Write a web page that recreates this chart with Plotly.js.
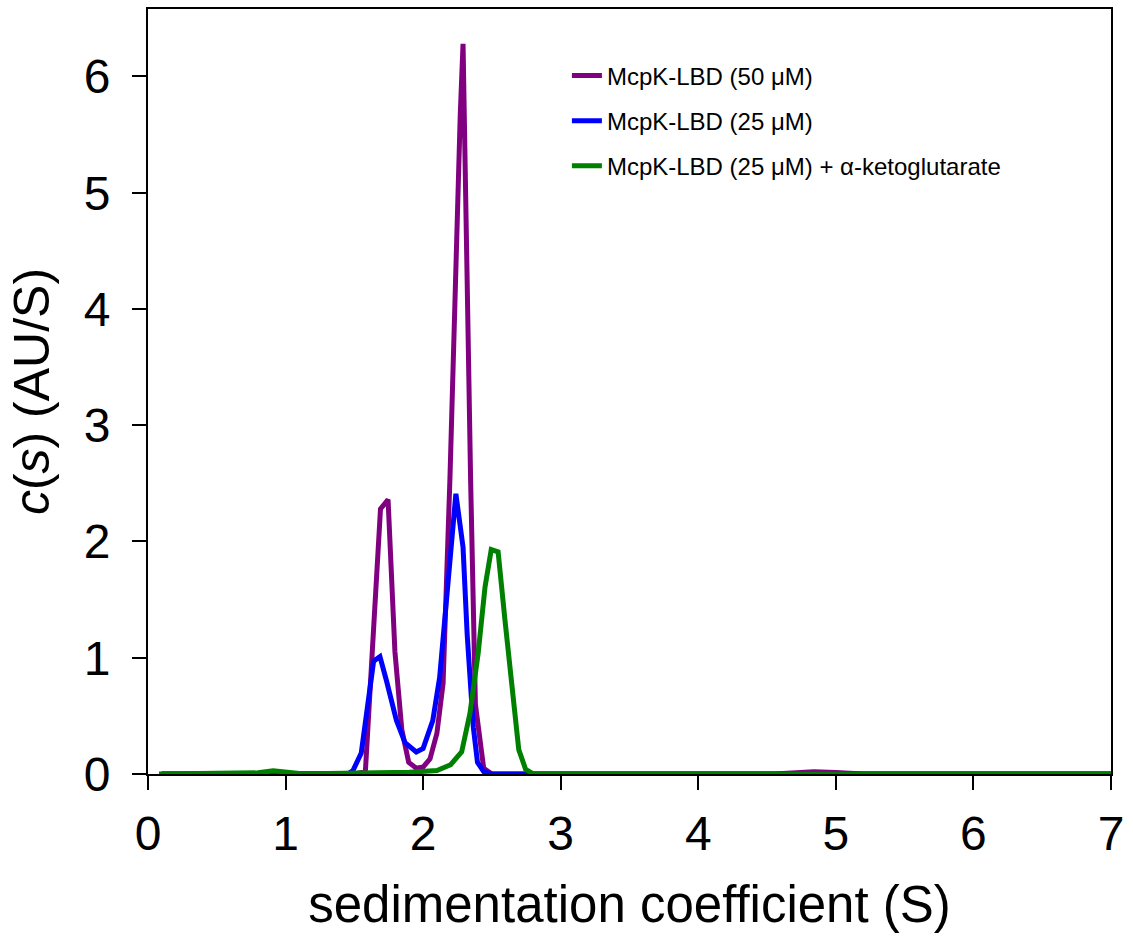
<!DOCTYPE html>
<html>
<head>
<meta charset="utf-8">
<script src="https://cdn.plot.ly/plotly-3.0.1.min.js"></script>
<style>
  html, body { margin: 0; padding: 0; background: #fff; }
  #cs { width: 1133px; height: 943px; }
</style>
</head>
<body>
<div id="cs"></div>
<script>
// c(s) distributions
let names = ["McpK-LBD (50 μM)", "McpK-LBD (25 μM)", "McpK-LBD (25 μM) + α-ketoglutarate"];
let colors = ["#800080", "#0000ff", "#008000"];

let s_50 = [0.1, 1.5, 1.58, 1.69, 1.745, 1.795, 1.845, 1.895, 1.95, 2.0, 2.05, 2.1, 2.145, 2.195, 2.27, 2.29, 2.345, 2.38, 2.44, 2.5, 4.55, 4.7, 4.84, 5.0, 5.2, 7.0];
let c_50 = [0, 0, 0.02, 2.28, 2.36, 1.05, 0.38, 0.1, 0.05, 0.06, 0.13, 0.35, 0.78, 2.55, 5.68, 6.28, 2.53, 0.6, 0.05, 0, 0, 0.012, 0.02, 0.012, 0, 0];

let s_25 = [0.1, 1.45, 1.49, 1.55, 1.64, 1.686, 1.734, 1.806, 1.868, 1.95, 2.0, 2.07, 2.12, 2.18, 2.238, 2.29, 2.32, 2.365, 2.395, 2.44, 2.5, 7.0];
let c_25 = [0, 0, 0.03, 0.18, 0.97, 1.01, 0.8, 0.46, 0.27, 0.19, 0.22, 0.46, 0.83, 1.65, 2.41, 1.95, 1.2, 0.4, 0.1, 0.02, 0, 0];

let s_akg = [0.08, 0.7, 0.8, 0.91, 1.0, 1.1, 1.3, 1.6, 1.9, 2.1, 2.2, 2.28, 2.34, 2.4, 2.45, 2.495, 2.545, 2.595, 2.643, 2.695, 2.745, 2.8, 7.0];
let c_akg = [0, 0, 0.01, 0.028, 0.015, 0.005, 0.005, 0.01, 0.015, 0.03, 0.08, 0.19, 0.52, 1.04, 1.61, 1.93, 1.91, 1.32, 0.75, 0.21, 0.04, 0, 0];

let xs = [s_50, s_25, s_akg];
let ys = [c_50, c_25, c_akg];

let font = "Liberation Sans, Arial, Helvetica, sans-serif";

function make_trace(i) {
    return {
        x: xs[i],
        y: ys[i],
        type: "scatter",
        mode: "lines",
        name: names[i],
        legendgroup: "g" + i,
        line: { color: colors[i], width: 5 },
        hoverinfo: "skip"
    };
}

let data = [make_trace(0), make_trace(1), make_trace(2)];

let axis_common = {
    showgrid: false,
    zeroline: false,
    showline: true,
    linecolor: "#000",
    linewidth: 2,
    mirror: true,
    ticks: "outside",
    ticklen: 14,
    tickwidth: 2,
    tickcolor: "#000",
    tickfont: { family: font, size: 48, color: "#000" }
};

let layout = {
    width: 1133,
    height: 943,
    margin: { l: 148, r: 22, t: 9, b: 169 },
    paper_bgcolor: "#fff",
    plot_bgcolor: "#fff",
    font: { family: font, color: "#000" },
    showlegend: true,
    legend: {
        x: 0.435,
        y: 0.942,
        xanchor: "left",
        yanchor: "top",
        bgcolor: "rgba(0,0,0,0)",
        font: { family: font, size: 24, color: "#000" },
        tracegroupgap: 11
    },
    xaxis: Object.assign({}, axis_common, {
        range: [0, 7],
        dtick: 1,
        tick0: 0,
        ticklabelstandoff: 2,
        title: { text: "sedimentation coefficient (S)", font: { family: font, size: 51 }, standoff: 28 }
    }),
    yaxis: Object.assign({}, axis_common, {
        range: [0, 6.58],
        dtick: 1,
        tick0: 0,
        ticklabelstandoff: 12,
        title: { text: "<i>c</i>(<i>s</i>) (AU/S)", font: { family: font, size: 50 }, standoff: 18 }
    })
};

Plotly.newPlot("cs", data, layout, { displayModeBar: false, staticPlot: true });
</script>
</body>
</html>
